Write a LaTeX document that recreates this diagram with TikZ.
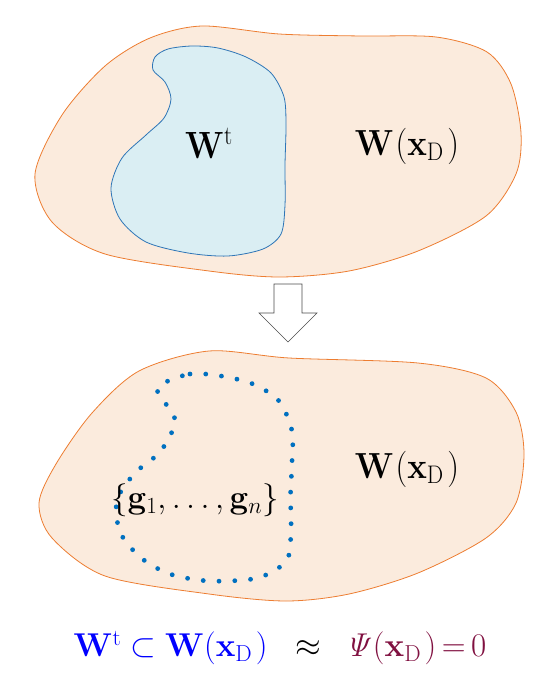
\RequirePackage{fix-cm}
\documentclass[tikz,border=0pt]{standalone}
\usepackage{amsmath,graphicx}
\definecolor{orfill}{RGB}{251,235,221}
\definecolor{orline}{RGB}{237,125,49}
\definecolor{blfill}{RGB}{218,238,243}
\definecolor{blline}{RGB}{46,117,182}
\definecolor{dotblue}{RGB}{0,112,192}
\definecolor{fblue}{RGB}{0,0,255}
\definecolor{fpurple}{RGB}{128,16,64}
\begin{document}
\begin{tikzpicture}[x=1pt,y=-1pt,
  region/.style={fill=orfill,draw=orline,line width=0.8pt},
  innerset/.style={fill=blfill,draw=blline,line width=0.8pt},
  dotset/.style={draw=dotblue,line width=4.8pt,line cap=round,dash pattern=on 0pt off 15.8pt},
  arrowbox/.style={draw=black!70,fill=white,line width=0.6pt},
  lbl/.style={font=\fontsize{33}{40}\selectfont,inner sep=0pt}]
\useasboundingbox (0,0) rectangle (540,692);
% top region
\draw[region] plot[smooth cycle] coordinates {(35,174) (62,115) (105,66) (150,38) (202,26) (279,34) (360,36) (436,37) (487,52) (511,84) (521,133) (516,174) (486,216) (418,251) (349,271) (279,277) (209,271) (105,254) (52,222)};
\draw[innerset] plot[smooth cycle] coordinates {(153,70) (155,57) (168,49) (192,46) (218,48) (246,57) (271,73) (284,97) (286,125) (285,165) (285,205) (281,234) (263,249) (228,256) (188,253) (146,242) (120,219) (111,188) (122,158) (146,135) (164,118) (171,99) (165,82)};
\node[lbl] (wt) at (209,143) {\scalebox{1}[1.15]{$\mathbf{W}^{\mathrm{t}}$}};
\node[lbl] (wxa) at (407,146) {\scalebox{1}[1.1]{$\mathbf{W}\mkern1mu(\mathbf{x}_{\mathrm{D}}\mkern2mu)$}};
% arrow
\draw[arrowbox] (274,284) -- (302,284) -- (302,313) -- (317,313) -- (288,342) -- (259,313) -- (274,313) -- cycle;
% bottom region
\draw[region] plot[smooth cycle] coordinates {(139,371) (209,351) (289,358) (418,363) (486,378) (516,412) (524,454) (516,503) (486,538) (418,573) (349,594) (286,601) (209,594) (105,576) (52,538) (39,503) (56,464) (92,413)};
\draw[dotset] plot[smooth cycle] coordinates {(160,385) (190,374) (221,376) (253,384) (279,401) (292,431) (292,463) (290.5,496) (291,528) (287,560) (261,577) (229,581) (198,580) (167,573) (140,557) (120,532) (117,500) (135,473) (160,452) (175,424) (170,409) (159,396)};
\node[lbl] (gs) at (195,500) {$\{\mathbf{g}_1,\ldots,\mathbf{g}_n\}$};
\node[lbl] (wxb) at (407,469) {\scalebox{1}[1.1]{$\mathbf{W}\mkern1mu(\mathbf{x}_{\mathrm{D}}\mkern2mu)$}};
% formula
\node[lbl] (eq) at (280,648) {$\color{fblue}\mathbf{W}^{\mathrm{t}}\subset\mathbf{W}(\mathbf{x}_{\mathrm{D}}\mkern2mu)\mkern10mu\color{black}\approx\mkern8mu\color{fpurple}\mathit{\Psi}(\mathbf{x}_{\mathrm{D}}\mkern2mu)\mkern-2mu=\mkern-2mu0$};
\end{tikzpicture}
\end{document}
